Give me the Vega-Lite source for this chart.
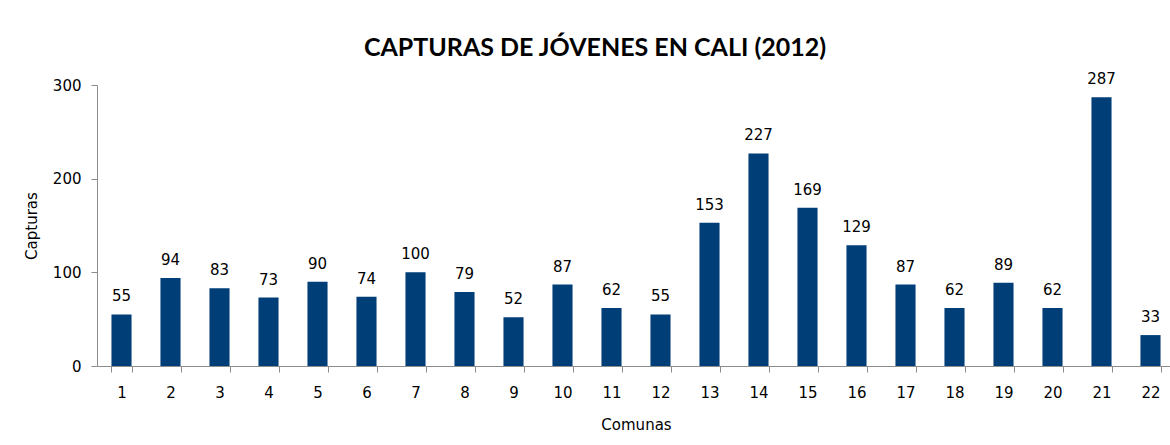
{
  "$schema": "https://vega.github.io/schema/vega-lite/v6.json",
  "autosize": "none",
  "padding": {"left": 97, "top": 85, "right": 0, "bottom": 79},
  "width": 1078,
  "height": 281,
  "background": "white",
  "title": {
    "text": "CAPTURAS DE JÓVENES EN CALI (2012)",
    "font": "Lato",
    "fontWeight": "bold",
    "fontSize": 25,
    "color": "#000000",
    "anchor": "middle",
    "dx": -41,
    "offset": 11
  },
  "data": {
    "values": [
      {"comuna": "1", "capturas": 55},
      {"comuna": "2", "capturas": 94},
      {"comuna": "3", "capturas": 83},
      {"comuna": "4", "capturas": 73},
      {"comuna": "5", "capturas": 90},
      {"comuna": "6", "capturas": 74},
      {"comuna": "7", "capturas": 100},
      {"comuna": "8", "capturas": 79},
      {"comuna": "9", "capturas": 52},
      {"comuna": "10", "capturas": 87},
      {"comuna": "11", "capturas": 62},
      {"comuna": "12", "capturas": 55},
      {"comuna": "13", "capturas": 153},
      {"comuna": "14", "capturas": 227},
      {"comuna": "15", "capturas": 169},
      {"comuna": "16", "capturas": 129},
      {"comuna": "17", "capturas": 87},
      {"comuna": "18", "capturas": 62},
      {"comuna": "19", "capturas": 89},
      {"comuna": "20", "capturas": 62},
      {"comuna": "21", "capturas": 287},
      {"comuna": "22", "capturas": 33}
    ]
  },
  "encoding": {
    "x": {
      "field": "comuna",
      "type": "ordinal",
      "sort": null,
      "title": "Comunas",
      "scale": {"paddingInner": 0.59, "paddingOuter": 0.295},
      "axis": {
        "labelAngle": 0,
        "domainColor": "#8c8c8c",
        "tickColor": "#8c8c8c",
        "tickSize": 6,
        "tickBand": "extent",
        "labelPadding": 13,
        "labelFont": "DejaVu Sans",
        "labelFontSize": 15,
        "labelColor": "#000000",
        "titleFont": "DejaVu Sans",
        "titleFontSize": 15,
        "titleFontWeight": "normal",
        "titleColor": "#000000",
        "titlePadding": 17
      }
    },
    "y": {
      "field": "capturas",
      "type": "quantitative",
      "title": "Capturas",
      "scale": {"domain": [0, 300]},
      "axis": {
        "values": [0, 100, 200, 300],
        "grid": false,
        "domainColor": "#8c8c8c",
        "tickColor": "#8c8c8c",
        "tickSize": 6,
        "labelPadding": 10,
        "labelFont": "DejaVu Sans",
        "labelFontSize": 15,
        "labelColor": "#000000",
        "titleFont": "DejaVu Sans",
        "titleFontSize": 15,
        "titleFontWeight": "normal",
        "titleColor": "#000000",
        "titlePadding": 13
      }
    }
  },
  "layer": [
    {"mark": {"type": "bar", "color": "#003e78"}},
    {
      "mark": {"type": "text", "dy": -18, "font": "DejaVu Sans", "fontSize": 15, "color": "#000000"},
      "encoding": {"text": {"field": "capturas", "type": "quantitative"}}
    }
  ],
  "config": {"view": {"stroke": null}}
}
